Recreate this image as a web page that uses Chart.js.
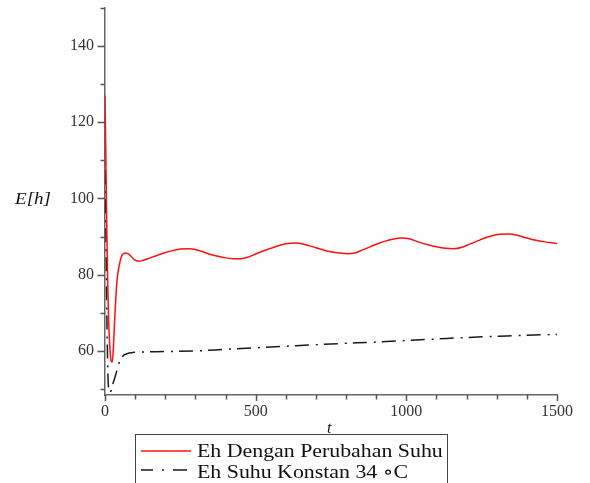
<!DOCTYPE html>
<html>
<head>
<meta charset="utf-8">
<script src="https://cdn.jsdelivr.net/npm/chart.js@4/dist/chart.umd.min.js"></script>
<style>
  html, body { margin: 0; padding: 0; background: #fff; }
  #wrap { position: relative; width: 590px; height: 483px; overflow: hidden; }
  #plot { position: absolute; left: 0; top: 0; }
  .serif { font-family: "Liberation Serif", "DejaVu Serif", serif; color: #111; white-space: nowrap; position: absolute; }
  #ylab { left: 15px; top: 189px; font-size: 17px; line-height: 20px; font-style: italic; transform: scaleX(1.12); transform-origin: left center; }
  #xlab { left: 327px; top: 419px; font-size: 16px; line-height: 18px; font-style: italic; }
  #legend { position: absolute; left: 135px; top: 434px; width: 313px; height: 52px; border: 1px solid #444; background: #fff; box-sizing: border-box; }
  #legend svg { position: absolute; left: 4px; }
  #legend .txt { font-size: 19px; line-height: 20px; transform: scaleX(1.15); transform-origin: left center; left: 61px; }
</style>
</head>
<body>
<div id="wrap">
  <canvas id="plot" width="590" height="483"></canvas>
  <div id="ylab" class="serif">E[h]</div>
  <div id="xlab" class="serif">t</div>
  <div id="legend"></div>
</div>
<script>
// Eh with changing temperature
const tRed = [0, 3, 6, 9, 12, 16, 20, 24, 28, 32, 36, 40, 45, 50, 55, 60, 70, 80, 90, 100,
  112, 125, 150, 175, 200, 225, 250, 280, 300, 325, 350, 375, 400, 425, 451, 475, 500,
  525, 550, 575, 600, 634, 660, 690, 720, 750, 780, 805, 830, 855, 880, 905, 930, 955,
  982, 1010, 1040, 1070, 1100, 1130, 1158, 1185, 1210, 1235, 1260, 1285, 1310, 1341,
  1370, 1400, 1430, 1460, 1500];
const eRed = [127, 110, 92, 78, 68, 61, 57.5, 57, 61, 68, 74, 78.5, 81.5, 83.5, 84.8, 85.4, 85.7, 85.3, 84.5, 83.8,
  83.5, 83.7, 84.4, 85.1, 85.8, 86.3, 86.7, 86.8, 86.6, 86.0, 85.3, 84.8, 84.4, 84.2, 84.2, 84.6, 85.4,
  86.2, 86.9, 87.6, 88.1, 88.3, 88.0, 87.3, 86.6, 86.0, 85.7, 85.5, 85.7, 86.5, 87.3, 88.1, 88.8, 89.3,
  89.6, 89.4, 88.6, 87.9, 87.3, 86.9, 86.8, 87.2, 88.0, 88.8, 89.6, 90.2, 90.6, 90.7,
  90.3, 89.6, 89.0, 88.6, 88.2];

// Eh at constant 34 °C
const tConst = [0, 2, 4, 6, 8, 10, 13, 17, 22, 28, 34, 40, 48, 56, 65, 75, 87, 100, 125, 200,
  313, 400, 500, 600, 700, 777, 900, 1000, 1100, 1200, 1300, 1400, 1500];
const eConst = [115, 100, 85, 70, 60, 53, 49.5, 49, 50, 51.8, 53.3, 55, 57.1, 58.3, 59, 59.3, 59.5, 59.6, 59.7, 59.8,
  60.0, 60.4, 60.8, 61.2, 61.6, 61.9, 62.3, 62.7, 63.1, 63.5, 63.8, 64.1, 64.3];

const seriesNames = ['Eh Dengan Perubahan Suhu', 'Eh Suhu Konstan 34 \u2218C'];

// axis ticks
const xTicks = [0, 100, 200, 300, 400, 500, 600, 700, 800, 900, 1000, 1100, 1200, 1300, 1400, 1500];
const xLabels = [0, 500, 1000, 1500];
const yTicks = [50, 60, 70, 80, 90, 100, 110, 120, 130, 140, 150];
const yLabels = [60, 80, 100, 120, 140];

const toPoints = (xs, ys) => xs.map((x, i) => ({ x: x, y: ys[i] }));

const datasets = [
  { label: seriesNames[0], data: toPoints(tRed, eRed), borderColor: '#ff1010', borderWidth: 1.5, borderDash: [] },
  { label: seriesNames[1], data: toPoints(tConst, eConst), borderColor: '#1a1a1a', borderWidth: 1.5, borderDash: [14, 7, 2, 6] }
].map(d => Object.assign(d, { showLine: true, pointRadius: 0, cubicInterpolationMode: 'monotone', fill: false }));

// short outward tick marks, longer where a label sits
const tickMarks = {
  id: 'tickMarks',
  afterDraw(chart) {
    const { ctx } = chart;
    const x = chart.scales.x, y = chart.scales.y;
    ctx.save();
    ctx.strokeStyle = '#555';
    ctx.lineWidth = 1.5;
    ctx.beginPath();
    xTicks.forEach(v => {
      const px = Math.round(x.getPixelForValue(v)) + 0.5;
      const len = xLabels.includes(v) ? 6 : 4.5;
      ctx.moveTo(px, x.top);
      ctx.lineTo(px, x.top + len);
    });
    yTicks.forEach(v => {
      const py = Math.round(y.getPixelForValue(v)) + 0.5;
      const len = yLabels.includes(v) ? 7.5 : 4.5;
      ctx.moveTo(y.right - len, py);
      ctx.lineTo(y.right, py);
    });
    ctx.stroke();
    ctx.restore();
  }
};

const tickFont = { family: '"Liberation Serif", "DejaVu Serif", serif', size: 16 };

new Chart(document.getElementById('plot'), {
  type: 'scatter',
  data: { datasets: datasets },
  options: {
    responsive: false,
    animation: false,
    events: [],
    layout: { padding: { top: 8, right: 33, left: 0, bottom: 0 } },
    plugins: { legend: { display: false }, tooltip: { enabled: false } },
    scales: {
      x: {
        type: 'linear',
        min: 0,
        max: 1500,
        afterBuildTicks: s => { s.ticks = xTicks.map(v => ({ value: v })); },
        afterFit: s => { s.height = 88; s.paddingLeft = 0; s.paddingRight = 0; s.paddingTop = 0; s.paddingBottom = 0; },
        grid: { drawOnChartArea: false, drawTicks: true, tickLength: 5, tickColor: 'rgba(0,0,0,0)' },
        border: { display: true, color: '#666', width: 1.5 },
        ticks: {
          autoSkip: false, maxRotation: 0, padding: 2, color: '#333', font: tickFont,
          callback: v => (xLabels.includes(v) ? String(v) : '')
        }
      },
      y: {
        type: 'linear',
        min: 48.4,
        max: 150,
        afterBuildTicks: s => { s.ticks = yTicks.map(v => ({ value: v })); },
        afterFit: s => { s.width = 105; s.paddingLeft = 0; s.paddingRight = 0; s.paddingTop = 0; s.paddingBottom = 0; },
        grid: { drawOnChartArea: false, drawTicks: true, tickLength: 6, tickColor: 'rgba(0,0,0,0)' },
        border: { display: true, color: '#666', width: 1.5 },
        ticks: {
          autoSkip: false, padding: 5, color: '#333', font: tickFont,
          callback: v => (yLabels.includes(v) ? String(v) : '')
        }
      }
    }
  },
  plugins: [tickMarks]
});

// legend box built from the dataset styles
const legend = document.getElementById('legend');
const rowTops = [6, 27];
const sampleY = [16, 35];
datasets.forEach((d, i) => {
  const svgNS = 'http://www.w3.org/2000/svg';
  const svg = document.createElementNS(svgNS, 'svg');
  svg.setAttribute('width', '52');
  svg.setAttribute('height', '6');
  svg.style.top = (sampleY[i] - 3) + 'px';
  const ln = document.createElementNS(svgNS, 'line');
  ln.setAttribute('x1', '1'); ln.setAttribute('x2', '51');
  ln.setAttribute('y1', '3'); ln.setAttribute('y2', '3');
  ln.setAttribute('stroke', d.borderColor);
  ln.setAttribute('stroke-width', d.borderWidth);
  if (d.borderDash.length) ln.setAttribute('stroke-dasharray', '12 9 2 9 14');
  svg.appendChild(ln);
  legend.appendChild(svg);
  const t = document.createElement('div');
  t.className = 'serif txt';
  t.style.top = rowTops[i] + 'px';
  t.textContent = d.label;
  legend.appendChild(t);
});
</script>
</body>
</html>
